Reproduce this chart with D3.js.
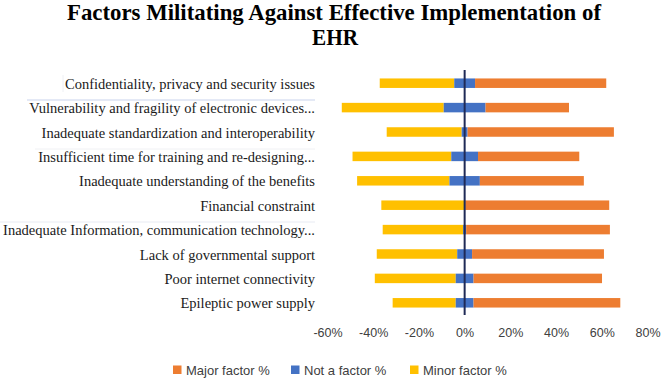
<!DOCTYPE html>
<html>
<head>
<meta charset="utf-8">
<script src="https://cdn.jsdelivr.net/npm/d3@7"></script>
<style>
  html, body { margin: 0; padding: 0; background: #fff; }
  svg { display: block; }
</style>
</head>
<body>
<svg id="chart" width="661" height="378"></svg>
<script>
const categories = [
  "Confidentiality, privacy and security issues",
  "Vulnerability and fragility of electronic devices...",
  "Inadequate standardization and interoperability",
  "Insufficient time for training and re-designing...",
  "Inadequate understanding of the benefits",
  "Financial constraint",
  "Inadequate Information, communication technology...",
  "Lack of governmental support",
  "Poor internet connectivity",
  "Epileptic power supply"
];
const majorFactor = [57.4, 36.5, 64.0, 44.3, 45.5, 63.0, 62.9, 57.7, 56.2, 64.2];
const notAFactor  = [9.1, 18.3, 2.6, 11.7, 13.3, 0.5, 1.3, 6.5, 7.8, 7.8];
const minorFactor = [32.6, 44.6, 32.8, 43.2, 40.4, 36.2, 35.2, 35.2, 35.4, 27.6];
const tickValues = [-60, -40, -20, 0, 20, 40, 60, 80];
const seriesNames = ["Major factor %", "Not a factor %", "Minor factor %"];
const seriesColors = ["#ED7D31", "#4472C4", "#FFC000"];
const titleLines = ["Factors Militating Against Effective Implementation of", "EHR"];

const svg = d3.select("#chart");

const x = d3.scaleLinear().domain([-60, 80]).range([327.5, 647.5]);
const y = d3.scalePoint().domain(categories).range([71, 315]).padding(0.5);
const barH = 9.5;

// title
const titleText = svg.append("g").attr("font-family", "'Liberation Serif', 'Times New Roman', serif")
  .attr("font-weight", "bold").attr("font-size", 22.5).attr("fill", "#000").attr("text-anchor", "middle");
titleText.append("text").attr("x", 334).attr("y", 20).text(titleLines[0])
  .attr("textLength", 534).attr("lengthAdjust", "spacingAndGlyphs");
titleText.append("text").attr("x", 335).attr("y", 45).text(titleLines[1])
  .attr("textLength", 46).attr("lengthAdjust", "spacingAndGlyphs");

// faint artifact lines near labels
svg.append("line").attr("x1", 27).attr("x2", 315).attr("y1", 100).attr("y2", 100)
  .attr("stroke", "#c9d3ec").attr("stroke-width", 1);
svg.append("line").attr("x1", 63).attr("x2", 63).attr("y1", 75).attr("y2", 92)
  .attr("stroke", "#eef0f4").attr("stroke-width", 1);
svg.append("line").attr("x1", 0).attr("x2", 315).attr("y1", 222).attr("y2", 222)
  .attr("stroke", "#e8ebf3").attr("stroke-width", 1);
svg.append("line").attr("x1", 35).attr("x2", 315).attr("y1", 149).attr("y2", 149)
  .attr("stroke", "#f0f1f4").attr("stroke-width", 1);

// bars
const rows = categories.map((c, i) => ({
  c,
  segs: [
    { s: 2, x0: -notAFactor[i] / 2 - minorFactor[i], x1: -notAFactor[i] / 2 },
    { s: 1, x0: -notAFactor[i] / 2, x1: notAFactor[i] / 2 },
    { s: 0, x0: notAFactor[i] / 2, x1: notAFactor[i] / 2 + majorFactor[i] }
  ]
}));
const g = svg.append("g");
rows.forEach(r => {
  g.selectAll(null).data(r.segs).join("rect")
    .attr("x", d => x(d.x0))
    .attr("width", d => Math.max(0, x(d.x1) - x(d.x0)))
    .attr("y", y(r.c) - barH / 2)
    .attr("height", barH)
    .attr("fill", d => seriesColors[d.s]);
});

// category labels
const labels = svg.append("g").attr("font-family", "'Liberation Serif', 'Times New Roman', serif")
  .attr("font-size", 14.5).attr("fill", "#1a1a1a").attr("text-anchor", "end");
labels.selectAll("text").data(categories).join("text")
  .attr("x", 315).attr("y", d => y(d) + 5.5)
  .text(d => d);

// zero axis line
svg.append("line").attr("x1", x(0)).attr("x2", x(0)).attr("y1", 70).attr("y2", 315)
  .attr("stroke", "#1f2a56").attr("stroke-width", 2);

// x tick labels via axis
const axis = d3.axisBottom(x).tickValues(tickValues).tickFormat(d => d + "%").tickSize(0).tickPadding(0);
const ax = svg.append("g").attr("transform", "translate(0,328)").call(axis);
ax.select(".domain").remove();
ax.selectAll("text").attr("font-family", "'Liberation Sans', Arial, sans-serif")
  .attr("font-size", 12.5).attr("fill", "#404040").attr("dy", "0.71em");

// legend
const legendX = [173, 291, 410];
const legend = svg.append("g").attr("font-family", "'Liberation Sans', Arial, sans-serif")
  .attr("font-size", 13).attr("fill", "#404040");
seriesNames.forEach((n, i) => {
  legend.append("rect").attr("x", legendX[i]).attr("y", 365.5).attr("width", 8.5).attr("height", 8.5)
    .attr("fill", seriesColors[i]);
  legend.append("text").attr("x", legendX[i] + 13).attr("y", 374.5).text(n);
});
</script>
</body>
</html>
